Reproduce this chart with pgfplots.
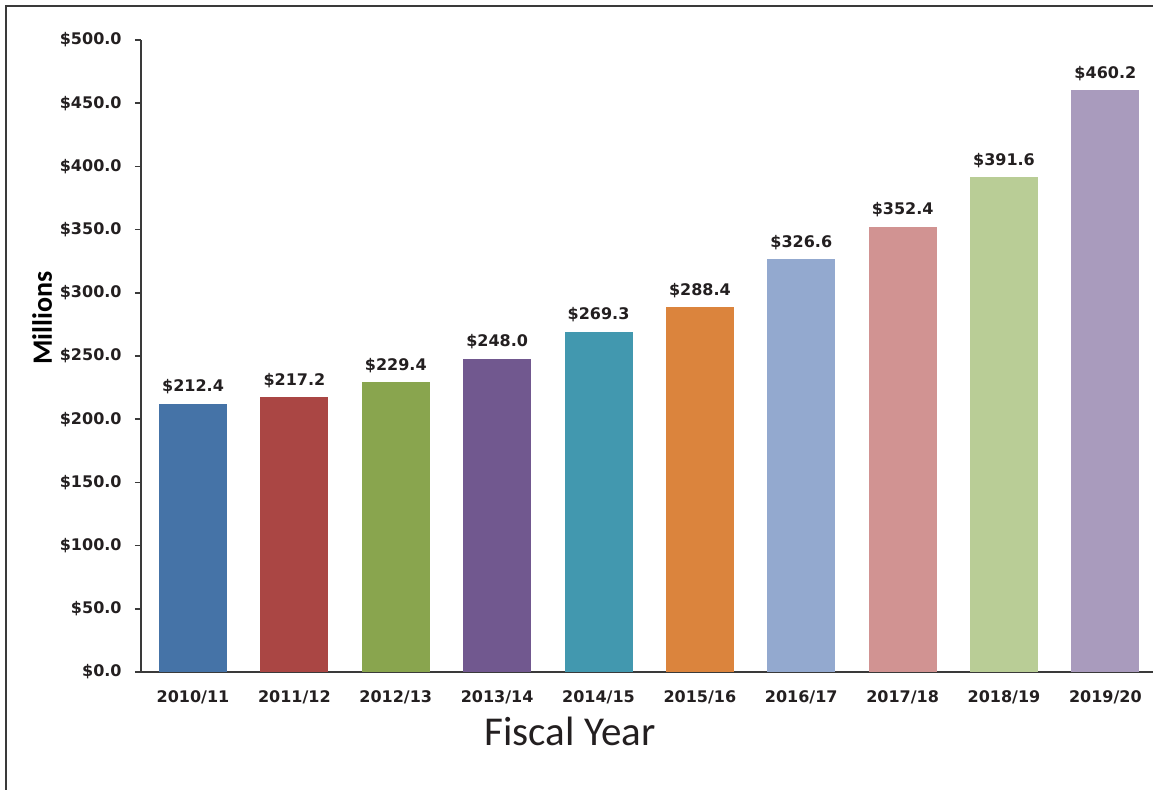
\documentclass[border=0pt]{standalone}
\usepackage{pgfplots}
\pgfplotsset{compat=1.18}
\usepackage{fontspec}
\setmainfont{DejaVu Sans}
\newfontfamily\carlito{Carlito}
\definecolor{c1}{HTML}{4573A7}
\definecolor{c2}{HTML}{AA4644}
\definecolor{c3}{HTML}{89A54E}
\definecolor{c4}{HTML}{71588F}
\definecolor{c5}{HTML}{4298AF}
\definecolor{c6}{HTML}{DB843D}
\definecolor{c7}{HTML}{93A9CF}
\definecolor{c8}{HTML}{D19392}
\definecolor{c9}{HTML}{B9CD96}
\definecolor{c10}{HTML}{A99BBD}
\definecolor{txt}{HTML}{231F20}
\definecolor{axl}{HTML}{3A3A3A}
\begin{document}
\begin{tikzpicture}
\useasboundingbox (0,0) rectangle (576.5pt,-395pt);
\draw[line width=1.1pt, color=axl] (3pt,-400pt) -- (3pt,-3pt) -- (580pt,-3pt);
\begin{axis}[
  at={(70.5pt,-336pt)}, anchor=south west,
  scale only axis, width=506pt, height=316pt,
  axis lines*=left,
  axis line style={line width=1pt, color=axl},
  ymin=0, ymax=500, xmin=-0.513, xmax=9.47,
  ytick={0,50,...,500},
  xtick={0,...,9},
  xticklabels={2010/11,2011/12,2012/13,2013/14,2014/15,2015/16,2016/17,2017/18,2018/19,2019/20},
  tick align=outside,
  major tick length=3pt,
  xtick style={draw=none},
  ytick style={line width=0.8pt, color=axl},
  /pgf/number format/assume math mode=true,
  yticklabel={\$\pgfmathprintnumber[fixed,fixed zerofill,precision=1]{\tick}},
  ticklabel style={font=\bfseries\fontsize{8}{9}\selectfont, text=txt},
  yticklabel style={anchor=east, inner sep=0pt, xshift=-6.5pt},
  xticklabel style={anchor=north, inner sep=0pt, yshift=-6pt},
  xlabel={Fiscal Year},
  xlabel style={at={(axis description cs:0.424,-0.117)}, anchor=base, font=\carlito\fontsize{20.5}{24}\selectfont, text=txt, inner sep=0pt},
  ylabel={Millions},
  ylabel style={at={(axis description cs:-0.088,0.56)}, anchor=base, rotate=0, font=\carlito\bfseries\fontsize{14}{16}\selectfont, text=black, inner sep=0pt},
  ybar, bar width=34pt, bar shift=0pt,
  nodes near coords={\$\pgfmathprintnumber[fixed,fixed zerofill,precision=1]{\pgfplotspointmeta}},
  every node near coord/.append style={font=\bfseries\fontsize{8}{9}\selectfont, text=txt, anchor=base, inner sep=0pt, yshift=6pt},
  clip=false,
]
\addplot[draw=none, fill=c1] coordinates {(0,212.4)};
\addplot[draw=none, fill=c2] coordinates {(1,217.2)};
\addplot[draw=none, fill=c3] coordinates {(2,229.4)};
\addplot[draw=none, fill=c4] coordinates {(3,248.0)};
\addplot[draw=none, fill=c5] coordinates {(4,269.3)};
\addplot[draw=none, fill=c6] coordinates {(5,288.4)};
\addplot[draw=none, fill=c7] coordinates {(6,326.6)};
\addplot[draw=none, fill=c8] coordinates {(7,352.4)};
\addplot[draw=none, fill=c9] coordinates {(8,391.6)};
\addplot[draw=none, fill=c10] coordinates {(9,460.2)};
\end{axis}
\end{tikzpicture}
\end{document}
